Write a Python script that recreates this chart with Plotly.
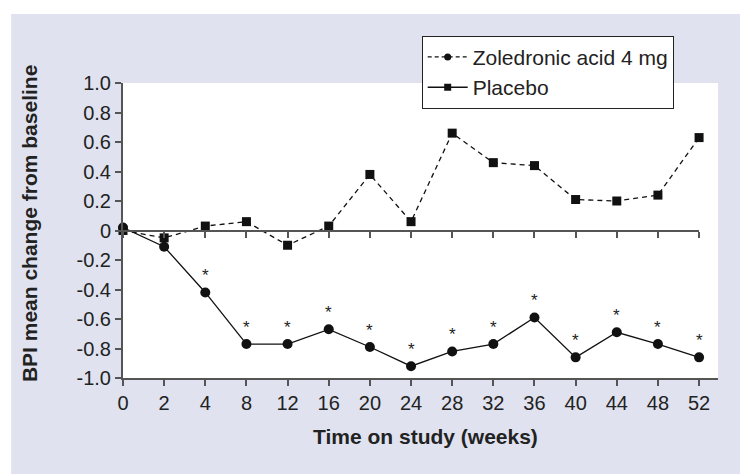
import plotly.graph_objects as go

weeks = ["0", "2", "4", "8", "12", "16", "20", "24", "28", "32", "36", "40", "44", "48", "52"]
zoledronic = [0.02, -0.11, -0.42, -0.77, -0.77, -0.67, -0.79, -0.92, -0.82, -0.77, -0.59, -0.86, -0.69, -0.77, -0.86]
placebo = [0.0, -0.05, 0.03, 0.06, -0.10, 0.03, 0.38, 0.06, 0.66, 0.46, 0.44, 0.21, 0.20, 0.24, 0.63]
significant = [False, False, True, True, True, True, True, True, True, True, True, True, True, True, True]
y_tickvals = [-1.0, -0.8, -0.6, -0.4, -0.2, 0.0, 0.2, 0.4, 0.6, 0.8, 1.0]
y_ticktext = ["-1.0", "-0.8", "-0.6", "-0.4", "-0.2", "0", "0.2", "0.4", "0.6", "0.8", "1.0"]

FONT = "Liberation Sans, Arial, Helvetica, sans-serif"
LAV = "#e0e2ef"
AX = "#555555"
idx = list(range(len(weeks)))

fig = go.Figure()

fig.add_trace(go.Scatter(
    x=idx, y=placebo, mode="lines+markers", showlegend=False,
    line=dict(color="#111", width=1.3, dash="5px,4px"),
    marker=dict(symbol="square", size=9, color="#111"), cliponaxis=False))
fig.add_trace(go.Scatter(
    x=idx, y=zoledronic, mode="lines+markers", showlegend=False,
    line=dict(color="#111", width=1.3),
    marker=dict(symbol="circle", size=10, color="#111"), cliponaxis=False))

# legend entries (styled as in the original figure)
fig.add_trace(go.Scatter(
    x=[None], y=[None], mode="lines+markers", name="Zoledronic acid 4 mg",
    line=dict(color="#111", width=1.3, dash="4px,3px"),
    marker=dict(symbol="circle", size=7, color="#111")))
fig.add_trace(go.Scatter(
    x=[None], y=[None], mode="lines+markers", name="Placebo",
    line=dict(color="#111", width=1.3),
    marker=dict(symbol="square", size=7, color="#111")))

# invisible trace to host the zero-line axis
fig.add_trace(go.Scatter(x=[0], y=[0], xaxis="x2", mode="markers",
                         marker=dict(opacity=0), showlegend=False, hoverinfo="skip"))

for i, (v, s) in enumerate(zip(zoledronic, significant)):
    if s:
        fig.add_annotation(x=i, y=v, text="*", showarrow=False, yshift=17,
                           font=dict(family=FONT, size=17, color="#222"))

xmax = len(weeks) - 1 + 0.46
fig.update_layout(
    width=740, height=474,
    margin=dict(l=123, r=22, t=83, b=96, autoexpand=False),
    paper_bgcolor=LAV, plot_bgcolor="rgba(0,0,0,0)",
    font=dict(family=FONT, size=20, color="#222"),
    xaxis=dict(range=[0, xmax], tickmode="array", tickvals=idx, ticktext=weeks,
               ticks="outside", ticklen=6, tickwidth=1.5, tickcolor=AX,
               showline=True, linecolor=AX, linewidth=2, showgrid=False, zeroline=False,
               tickfont=dict(size=20, color="#222")),
    xaxis2=dict(range=[0, len(weeks) - 1], domain=[0, (len(weeks) - 1) / xmax],
                anchor="free", position=0.5, tickmode="array", tickvals=idx,
                ticks="outside", ticklen=6, tickwidth=1.5, tickcolor=AX,
                showline=True, linecolor=AX, linewidth=2, showgrid=False,
                zeroline=False, showticklabels=False),
    yaxis=dict(range=[-1, 1], tickmode="array", tickvals=y_tickvals, ticktext=y_ticktext,
               ticks="outside", ticklen=6, tickwidth=1.5, tickcolor=AX,
               showline=True, linecolor=AX, linewidth=2, showgrid=False, zeroline=False,
               tickfont=dict(size=20, color="#222")),
    legend=dict(x=0.502, y=1.16, xanchor="left", yanchor="top",
                bgcolor="white", bordercolor="#222", borderwidth=1,
                font=dict(family=FONT, size=21, color="#222"), itemwidth=40),
    shapes=[
        dict(type="rect", xref="paper", yref="paper", x0=-0.25, x1=1.1,
             y0=1.234, y1=1.4, fillcolor="white", line=dict(width=0), layer="below"),
        dict(type="rect", xref="paper", yref="paper", x0=-0.25, x1=-0.188,
             y0=-0.4, y1=1.4, fillcolor="white", line=dict(width=0), layer="below"),
        dict(type="rect", xref="paper", yref="paper", x0=0, x1=1,
             y0=0, y1=1, fillcolor="white", line=dict(width=0), layer="below"),
    ],
)

fig.add_annotation(xref="paper", yref="paper", x=-0.158, y=0.525, xanchor="center", yanchor="middle",
                   text="<b>BPI mean change from baseline</b>",
                   textangle=-90, showarrow=False, font=dict(family=FONT, size=21, color="#222"))
fig.add_annotation(xref="paper", yref="paper", x=0.508, y=-0.197, xanchor="center", yanchor="middle",
                   text="<b>Time on study (weeks)</b>",
                   showarrow=False, font=dict(family=FONT, size=21, color="#222"))

fig.write_html("out.html", config={"displayModeBar": False},
               post_script="document.body.style.margin='0';")
